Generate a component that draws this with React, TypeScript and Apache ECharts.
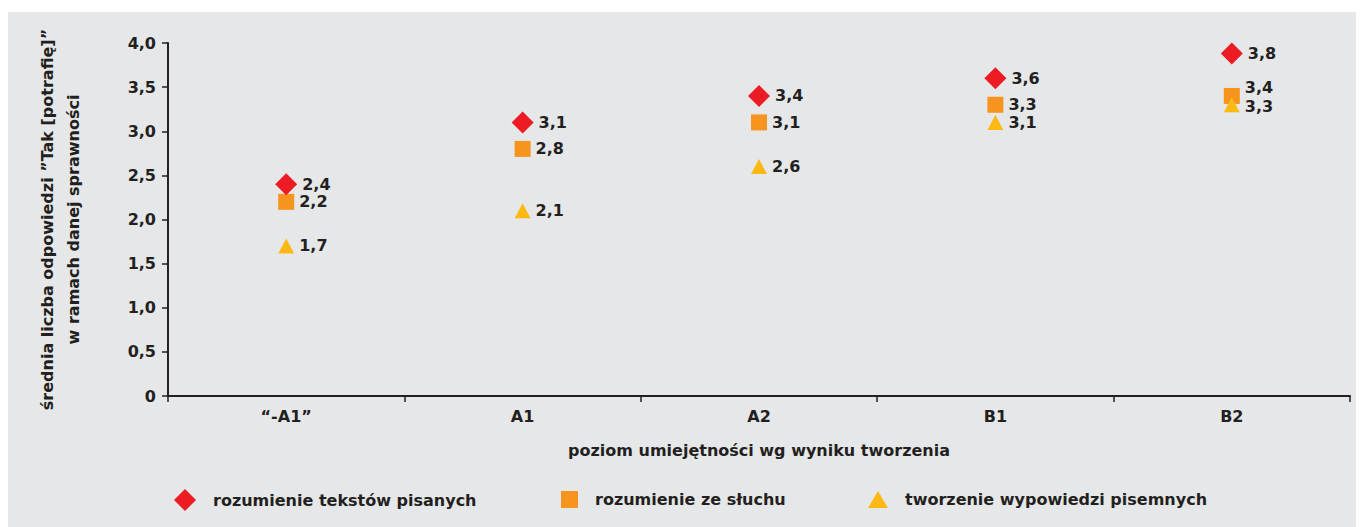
import React, { useEffect, useRef } from "react";
import * as echarts from "echarts";

const categories = ["“-A1”", "A1", "A2", "B1", "B2"];
const seriesNames = [
  "rozumienie tekstów pisanych",
  "rozumienie ze słuchu",
  "tworzenie wypowiedzi pisemnych",
];
const readingValues = [2.4, 3.1, 3.4, 3.6, 3.88];
const readingLabels = ["2,4", "3,1", "3,4", "3,6", "3,8"];
const listeningValues = [2.2, 2.8, 3.1, 3.3, 3.4];
const listeningLabels = ["2,2", "2,8", "3,1", "3,3", "3,4"];
const writingValues = [1.7, 2.1, 2.6, 3.1, 3.3];
const writingLabels = ["1,7", "2,1", "2,6", "3,1", "3,3"];
const yTicks = [0, 0.5, 1, 1.5, 2, 2.5, 3, 3.5, 4];

const FONT = "'DejaVu Sans', sans-serif";
const FS = 16;
const TEXT = "#231f20";
const colors = ["#ed1c24", "#f7941d", "#fdb913"];

export default function App() {
  const ref = useRef<HTMLDivElement>(null);
  useEffect(() => {
    if (!ref.current) return;
    const chart = echarts.init(ref.current, null, { renderer: "svg" });
    const labelStyle = (labels: string[]) => ({
      show: true,
      position: "right",
      distance: 5,
      fontFamily: FONT,
      fontWeight: 700,
      fontSize: FS,
      lineHeight: 15,
      color: TEXT,
      formatter: (p: any) => labels[p.dataIndex],
    });
    const mk = (vals: number[], offsets: (number[] | null)[]) =>
      vals.map((v, i) =>
        offsets[i] ? { value: v, label: { offset: offsets[i] } } : { value: v }
      );
    chart.setOption({
      animation: false,
      textStyle: { fontFamily: FONT },
      grid: { left: 160, top: 31, right: 14, bottom: 131 },
      legend: [0, 1, 2].map((i) => ({
        data: [seriesNames[i]],
        left: [161, 548, 855][i],
        top: [472, 474, 474][i],
        padding: 5,
        itemWidth: [22, 17, 20][i],
        itemHeight: [22, 17, 17][i],
        itemGap: 0,
        textStyle: {
          fontFamily: FONT,
          fontWeight: 700,
          fontSize: FS,
          color: TEXT,
          padding: [0, 0, 0, 12],
        },
        icon: ["diamond", "rect", "triangle"][i],
      })),
      xAxis: {
        type: "category",
        data: categories,
        boundaryGap: true,
        name: "poziom umiejętności wg wyniku tworzenia",
        nameLocation: "middle",
        nameGap: 46,
        nameTextStyle: { fontFamily: FONT, fontWeight: 700, fontSize: FS, color: TEXT },
        axisLine: { lineStyle: { color: "#231f20", width: 2 } },
        axisTick: { show: true, length: 6, lineStyle: { color: "#231f20", width: 1.5 } },
        axisLabel: {
          fontFamily: FONT,
          fontWeight: 700,
          fontSize: FS,
          color: TEXT,
          margin: 12,
        },
        splitLine: { show: false },
      },
      yAxis: {
        type: "value",
        min: 0,
        max: 4,
        interval: 0.5,
        name: "średnia liczba odpowiedzi ”Tak [potrafię]”\nw ramach danej sprawności",
        nameLocation: "middle",
        nameGap: 82,
        nameTextStyle: {
          fontFamily: FONT,
          fontWeight: 700,
          fontSize: FS,
          color: TEXT,
          lineHeight: 26,
        },
        axisLine: { show: true, lineStyle: { color: "#231f20", width: 2 } },
        axisTick: { show: true, length: 6, lineStyle: { color: "#231f20", width: 1.5 } },
        axisLabel: {
          fontFamily: FONT,
          fontWeight: 700,
          fontSize: FS,
          color: TEXT,
          margin: 12,
          formatter: (v: number) =>
            yTicks.includes(v) ? (v === 0 ? "0" : v.toFixed(1).replace(".", ",")) : "",
        },
        splitLine: { show: false },
      },
      series: [
        {
          name: seriesNames[0],
          type: "scatter",
          symbol: "diamond",
          symbolSize: 22,
          itemStyle: { color: colors[0], opacity: 1 },
          label: labelStyle(readingLabels),
          data: mk(readingValues, [null, null, null, null, null]),
          z: 3,
        },
        {
          name: seriesNames[1],
          type: "scatter",
          symbol: "rect",
          symbolSize: 16,
          itemStyle: { color: colors[1], opacity: 1 },
          label: labelStyle(listeningLabels),
          data: mk(listeningValues, [null, null, null, null, [0, -8]]),
          z: 2,
        },
        {
          name: seriesNames[2],
          type: "scatter",
          symbol: "triangle",
          symbolSize: [16, 15],
          itemStyle: { color: colors[2], opacity: 1 },
          label: labelStyle(writingLabels),
          data: mk(writingValues, [null, null, null, null, [0, 2]]),
          z: 4,
        },
      ],
    });
    return () => chart.dispose();
  }, []);
  return (
    <div style={{ paddingTop: 4 }}>
      <div ref={ref} style={{ width: 1356, height: 515, background: "#e6e7e8" }} />
    </div>
  );
}
